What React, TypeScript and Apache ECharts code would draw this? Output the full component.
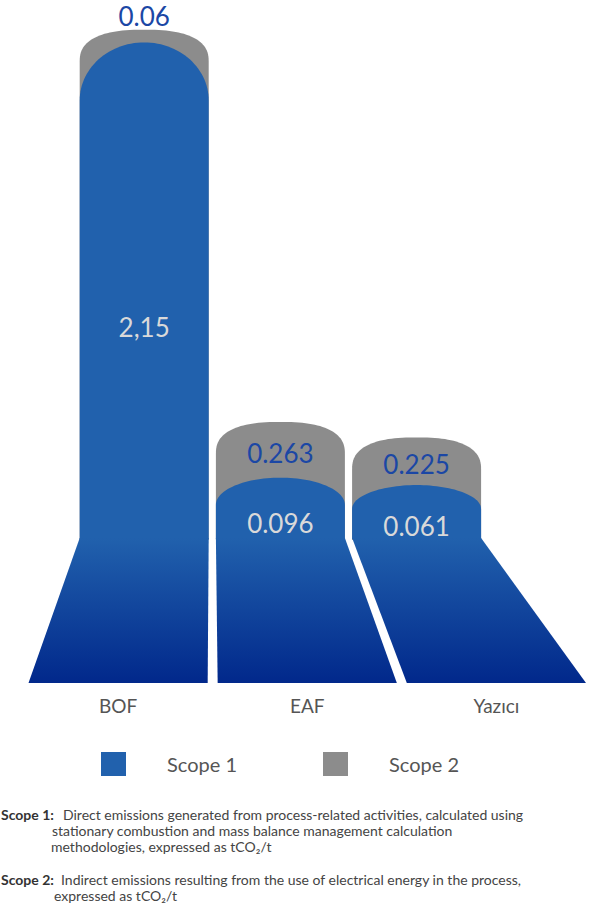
import React, { useEffect, useRef } from "react";
import * as echarts from "echarts";

const categories = ["BOF", "EAF", "Yazıcı"];
const scope1Values = [2.15, 0.096, 0.061];
const scope2Values = [0.06, 0.263, 0.225];
const scope1Labels = ["2,15", "0.096", "0.061"];
const scope2Labels = ["0.06", "0.263", "0.225"];
const seriesNames = ["Scope 1", "Scope 2"];
const footnoteScope1 = [
  "Scope 1:",
  "Direct emissions generated from process-related activities, calculated using",
  "stationary combustion and mass balance management calculation",
  "methodologies, expressed as tCO₂/t",
];
const footnoteScope2 = [
  "Scope 2:",
  "Indirect emissions resulting from the use of electrical energy in the process,",
  "expressed as tCO₂/t",
];

const BLUE = "#2161ad";
const NAVY = "#01288b";
const GRAY = "#8c8c8c";
const LABEL1 = "#d9d9d9";
const LABEL2 = "#1b47a5";
const TEXT = "#555555";
const FONT = "Lato, 'Noto Sans', sans-serif";

function dome(l: number, r: number, top: number, ry: number, bottomY: number, n: number) {
  const cx = (l + r) / 2;
  const rx = (r - l) / 2;
  const pts: number[][] = [[l, bottomY]];
  const N = 60;
  for (let k = 0; k <= N; k++) {
    const t = Math.PI - (Math.PI * k) / N;
    const c = Math.cos(t);
    const s = Math.sin(t);
    const x = cx + rx * Math.sign(c) * Math.pow(Math.abs(c), 2 / n);
    const y = top + ry - ry * Math.pow(Math.abs(s), 2 / n);
    pts.push([x, y]);
  }
  pts.push([r, bottomY]);
  return pts;
}

function layout(params: any, api: any, idx: number) {
  const cs = params.coordSys;
  const p0 = api.coord([idx, 0]);
  const bc = p0[0];
  const zeroY = p0[1];
  const band = api.size([1, 0])[0];
  const bw = band - 10;
  const ratio = 0.72;
  const vc = cs.x + cs.width * 0.331;
  const pc = vc + (bc - vc) * ratio;
  const pw = bw * ratio;
  return {
    bc,
    zeroY,
    bw,
    pc,
    pl: pc - pw / 2,
    pr: pc + pw / 2,
    trapTop: zeroY + 40,
    bottom: zeroY + 185,
  };
}

export default function App() {
  const ref = useRef<HTMLDivElement>(null);
  useEffect(() => {
    if (!ref.current) return;
    const chart = echarts.init(ref.current, null, { renderer: "svg" });

    const renderScope2 = (params: any, api: any) => {
      const i = api.value(0);
      const base = api.value(1);
      const v = api.value(2);
      const g = layout(params, api, i);
      const topY = api.coord([i, base + v])[1];
      const baseY = api.coord([i, base])[1];
      const gap = baseY - topY;
      const labelY = gap > 34 ? topY + gap * 0.55 : topY - 14;
      return {
        type: "group",
        children: [
          {
            type: "polygon",
            shape: { points: dome(g.pl, g.pr, topY, 32, g.trapTop + 2, 2.5) },
            style: { fill: GRAY },
          },
          {
            type: "text",
            z2: 10,
            style: {
              text: scope2Labels[params.dataIndex],
              x: g.pc,
              y: labelY,
              fill: LABEL2,
              fontSize: 26,
              fontFamily: FONT,
              align: "center",
              verticalAlign: "middle",
            },
          },
        ],
      };
    };

    const renderScope1 = (params: any, api: any) => {
      const i = api.value(0);
      const v = api.value(1);
      const g = layout(params, api, i);
      const topY = api.coord([i, v])[1];
      const ry = Math.min(58, 0.45 * (g.trapTop - topY));
      const labelY = topY + 0.55 * (g.zeroY + 62 - topY);
      return {
        type: "group",
        children: [
          {
            type: "polygon",
            shape: { points: dome(g.pl, g.pr, topY, ry, g.trapTop + 1, 2) },
            style: { fill: BLUE },
          },
          {
            type: "polygon",
            shape: {
              points: [
                [g.pl, g.trapTop],
                [g.pr, g.trapTop],
                [g.bc + g.bw / 2, g.bottom],
                [g.bc - g.bw / 2, g.bottom],
              ],
            },
            style: {
              fill: new echarts.graphic.LinearGradient(0, 0, 0, 1, [
                { offset: 0, color: BLUE },
                { offset: 1, color: NAVY },
              ]),
            },
          },
          {
            type: "text",
            z2: 10,
            style: {
              text: scope1Labels[params.dataIndex],
              x: g.pc,
              y: labelY,
              fill: LABEL1,
              fontSize: 26,
              fontFamily: FONT,
              align: "center",
              verticalAlign: "middle",
            },
          },
        ],
      };
    };

    const noteStyle = (bold: boolean) => ({
      fontSize: 14,
      lineHeight: 14,
      fontFamily: FONT,
      fontWeight: bold ? "bold" : "normal",
      fill: bold ? "#333333" : "#444444",
      verticalAlign: "middle",
    });

    chart.setOption({
      animation: false,
      backgroundColor: "#ffffff",
      grid: { left: 23.5, width: 570, top: 0, bottom: 408 },
      xAxis: {
        type: "category",
        data: categories,
        axisLine: { show: false },
        axisTick: { show: false },
        axisLabel: {
          margin: 198,
          color: TEXT,
          fontSize: 19,
          fontFamily: FONT,
        },
        splitLine: { show: false },
      },
      yAxis: {
        type: "value",
        min: 0,
        max: 2.35,
        show: false,
        splitLine: { show: false },
      },
      legend: {
        left: 101,
        top: 752,
        padding: 0,
        itemWidth: 25,
        itemHeight: 24,
        itemGap: 86,
        icon: "rect",
        data: [
          { name: seriesNames[0], itemStyle: { color: BLUE } },
          { name: seriesNames[1], itemStyle: { color: GRAY } },
        ],
        textStyle: {
          color: TEXT,
          fontSize: 20,
          fontFamily: FONT,
          padding: [0, 0, 0, 36],
        },
      },
      graphic: [
        { type: "text", x: 1, y: 814, style: { text: footnoteScope1[0], ...noteStyle(true) } },
        { type: "text", x: 63, y: 814, style: { text: footnoteScope1[1], ...noteStyle(false) } },
        { type: "text", x: 52, y: 830, style: { text: footnoteScope1[2], ...noteStyle(false) } },
        { type: "text", x: 51, y: 846, style: { text: footnoteScope1[3], ...noteStyle(false) } },
        { type: "text", x: 1, y: 879, style: { text: footnoteScope2[0], ...noteStyle(true) } },
        { type: "text", x: 61, y: 879, style: { text: footnoteScope2[1], ...noteStyle(false) } },
        { type: "text", x: 54, y: 895, style: { text: footnoteScope2[2], ...noteStyle(false) } },
      ],
      series: [
        {
          name: seriesNames[1],
          type: "custom",
          z: 2,
          itemStyle: { color: GRAY },
          renderItem: renderScope2,
          encode: { x: 0, y: 2 },
          data: categories.map((_, i) => [i, scope1Values[i], scope2Values[i]]),
        },
        {
          name: seriesNames[0],
          type: "custom",
          z: 3,
          itemStyle: { color: BLUE },
          renderItem: renderScope1,
          encode: { x: 0, y: 1 },
          data: categories.map((_, i) => [i, scope1Values[i]]),
        },
      ],
    });
    return () => chart.dispose();
  }, []);

  return (
    <div
      ref={ref}
      style={{ position: "fixed", left: 0, top: 0, width: 591, height: 906, background: "#fff" }}
    />
  );
}
